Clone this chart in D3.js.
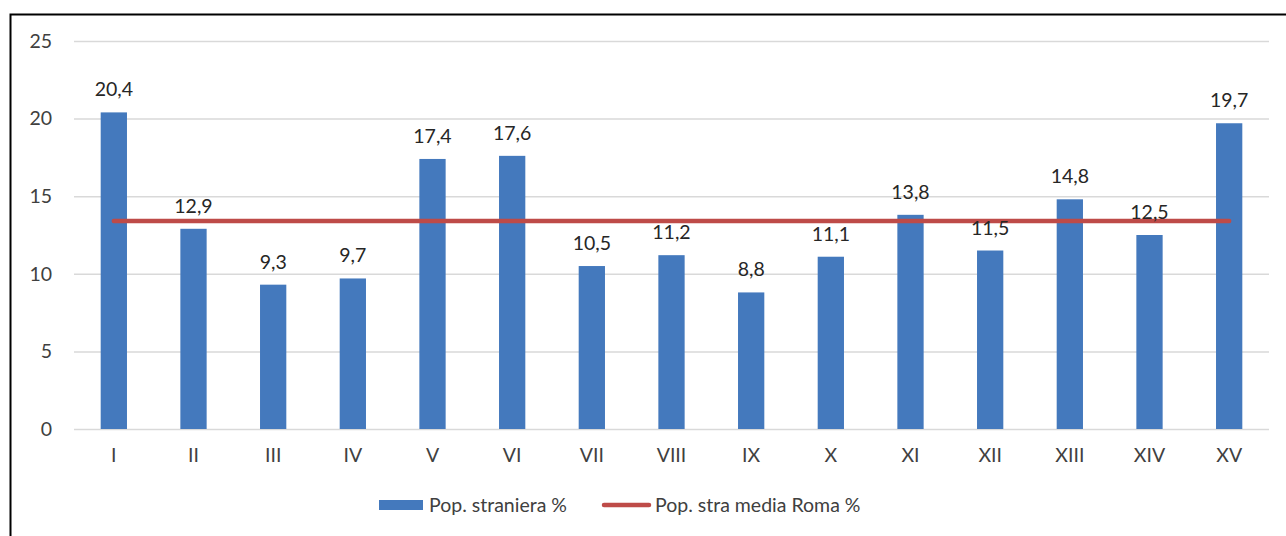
<!DOCTYPE html>
<html>
<head>
<meta charset="utf-8">
<script src="https://cdn.jsdelivr.net/npm/d3@7"></script>
<style>
  body { margin: 0; background: #fff; }
  text { font-family: Lato, "Noto Sans", sans-serif; }
</style>
</head>
<body>
<div id="chart-container"></div>
<script>
// data
const municipi = ['I', 'II', 'III', 'IV', 'V', 'VI', 'VII', 'VIII', 'IX', 'X', 'XI', 'XII', 'XIII', 'XIV', 'XV']
const popStraniera = [20.4, 12.9, 9.3, 9.7, 17.4, 17.6, 10.5, 11.2, 8.8, 11.1, 13.8, 11.5, 14.8, 12.5, 19.7]
const mediaRoma = 13.4
const yTicks = [0, 5, 10, 15, 20, 25]
const seriesNames = ['Pop. straniera %', 'Pop. stra media Roma %']

// constants
const width = 1286
const height = 536
const margin = {left: 74, top: 41, right: 17, bottom: 107}
const plotWidth = width - margin.left - margin.right
const plotHeight = height - margin.top - margin.bottom
const barColor = '#4479BD'
const lineColor = '#BE4B48'
const fontSize = 19.5
const fmt = v => String(v).replace('.', ',')

const svg = d3.select('#chart-container')
  .append('svg')
  .attr('width', width)
  .attr('height', height)

// frame
svg.append('path')
  .attr('d', `M10.5,${height} V14.5 H${width}`)
  .attr('fill', 'none')
  .attr('stroke', '#000')
  .attr('stroke-width', 2)

const container = svg.append('g')
  .attr('transform', `translate(${margin.left}, ${margin.top})`)

// scales
const yScale = d3.scaleLinear()
  .domain([0, 25])
  .range([plotHeight, 0])

const xScale = d3.scaleBand()
  .domain(municipi)
  .range([0, plotWidth])
  .paddingInner(0.67)
  .paddingOuter(0.335)

// grid
container.append('g')
  .selectAll('line')
  .data(yTicks)
  .join('line')
  .attr('x1', 0)
  .attr('x2', plotWidth)
  .attr('y1', d => yScale(d) + 0.5)
  .attr('y2', d => yScale(d) + 0.5)
  .attr('stroke', '#d9d9d9')
  .attr('stroke-width', 1.5)

// axes
const yAxis = d3.axisLeft(yScale)
  .tickValues(yTicks)
  .tickSize(0)
  .tickPadding(22)
container.append('g')
  .call(yAxis)
  .call(g => g.select('.domain').remove())
  .selectAll('text')
  .attr('font-size', fontSize)
  .attr('fill', '#404040')

const xAxis = d3.axisBottom(xScale)
  .tickSize(0)
  .tickPadding(19)
container.append('g')
  .attr('transform', `translate(0, ${plotHeight})`)
  .call(xAxis)
  .call(g => g.select('.domain').remove())
  .selectAll('text')
  .attr('font-size', fontSize)
  .attr('fill', '#404040')

// bars
container.selectAll('rect.bar')
  .data(popStraniera)
  .join('rect')
  .attr('class', 'bar')
  .attr('x', (d, i) => xScale(municipi[i]))
  .attr('y', d => yScale(d))
  .attr('width', xScale.bandwidth())
  .attr('height', d => plotHeight - yScale(d))
  .attr('fill', barColor)

// average line
const lineGen = d3.line()
  .x(d => xScale(d) + xScale.bandwidth() / 2)
  .y(() => yScale(mediaRoma))
container.append('path')
  .datum(municipi)
  .attr('d', lineGen)
  .attr('fill', 'none')
  .attr('stroke', lineColor)
  .attr('stroke-width', 4.5)
  .attr('stroke-linecap', 'round')

// data labels
container.selectAll('text.label')
  .data(popStraniera)
  .join('text')
  .attr('class', 'label')
  .attr('x', (d, i) => xScale(municipi[i]) + xScale.bandwidth() / 2)
  .attr('y', d => yScale(d) - 16)
  .attr('text-anchor', 'middle')
  .attr('font-size', fontSize)
  .attr('fill', '#262626')
  .text(fmt)

// legend
const legend = svg.append('g')
  .attr('transform', `translate(0, ${505})`)
legend.append('rect')
  .attr('x', 379)
  .attr('y', -5)
  .attr('width', 44)
  .attr('height', 10)
  .attr('fill', barColor)
legend.append('text')
  .attr('x', 429)
  .attr('dy', '0.35em')
  .attr('font-size', fontSize)
  .attr('fill', '#404040')
  .text(seriesNames[0])
legend.append('line')
  .attr('x1', 604)
  .attr('x2', 649)
  .attr('stroke', lineColor)
  .attr('stroke-width', 4.5)
  .attr('stroke-linecap', 'round')
legend.append('text')
  .attr('x', 655)
  .attr('dy', '0.35em')
  .attr('font-size', fontSize)
  .attr('fill', '#404040')
  .text(seriesNames[1])
</script>
</body>
</html>
